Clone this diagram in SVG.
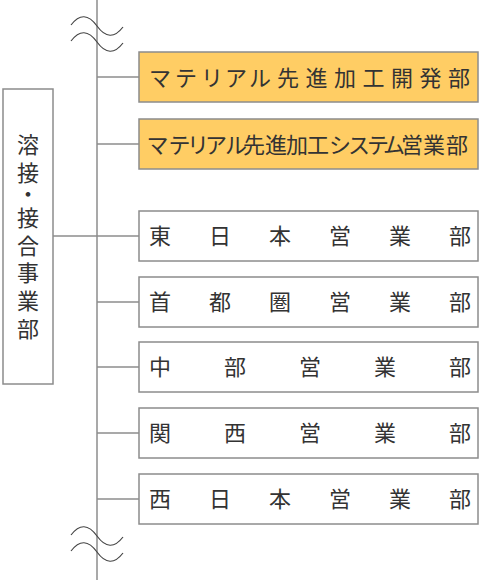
<svg xmlns="http://www.w3.org/2000/svg" width="480" height="580" viewBox="0 0 480 580">
<style>
.box{fill:#ffffff;stroke:#8c8c8c;stroke-width:1.5}
.hl{fill:#ffcd64}
.ln{fill:none;stroke:#8c8c8c;stroke-width:1.5}
.wave{fill:none;stroke:#444444;stroke-width:1.2}
.t{font-family:"Noto Sans CJK JP","Noto Sans CJK SC",sans-serif;font-size:22px;fill:#333333;text-anchor:middle}
</style>
<rect width="480" height="580" fill="#ffffff"/>
<g id="connectors">
<line class="ln" x1="97" y1="0" x2="97" y2="580"/>
<line class="ln" x1="53" y1="236" x2="97" y2="236"/>
<line class="ln" x1="97" y1="77" x2="139" y2="77"/>
<line class="ln" x1="97" y1="144" x2="139" y2="144"/>
<line class="ln" x1="97" y1="236" x2="139" y2="236"/>
<line class="ln" x1="97" y1="302" x2="139" y2="302"/>
<line class="ln" x1="97" y1="367" x2="139" y2="367"/>
<line class="ln" x1="97" y1="433" x2="139" y2="433"/>
<line class="ln" x1="97" y1="499" x2="139" y2="499"/>
<path class="wave" d="M71,25 Q84,8 97,26 T123,27"/>
<path class="wave" d="M71,41 Q84,24 97,42 T123,43"/>
<path class="wave" d="M71,535 Q84,518 97,536 T123,537"/>
<path class="wave" d="M71,551 Q84,534 97,552 T123,553"/>
</g>
<g id="division">
<rect class="box" x="3" y="89" width="50" height="295"/>
<text class="t" x="28 28 28 28 28 28 28 28" y="152.5 180.5 202 225.5 253.5 280.5 308.5 336.5">溶接・接合事業部</text>
</g>
<g id="materials-dev">
<rect class="box hl" x="139" y="52" width="339" height="50"/>
<text class="t" x="160 186 212 236 260 288 316.5 345 373.5 402 430.5 459" y="85.5">マテリアル先進加工開発部</text>
</g>
<g id="materials-sales">
<rect class="box hl" x="139" y="119" width="339" height="50"/>
<text class="t" x="157.5 179.5 198 216 236 254 276 297 318 340 359 378 394 412 434 457" y="152.5">マテリアル先進加工システム営業部</text>
</g>
<g id="east-japan">
<rect class="box" x="139" y="211" width="339" height="50"/>
<text class="t" x="160 220 280 340 400 460" y="243.5">東日本営業部</text>
</g>
<g id="metropolitan">
<rect class="box" x="139" y="277" width="339" height="50"/>
<text class="t" x="160 220 280 340 400 460" y="309.5">首都圏営業部</text>
</g>
<g id="chubu">
<rect class="box" x="139" y="342" width="339" height="50"/>
<text class="t" x="160 235 310 385 460" y="374.5">中部営業部</text>
</g>
<g id="kansai">
<rect class="box" x="139" y="408" width="339" height="50"/>
<text class="t" x="160 235 310 385 460" y="440.5">関西営業部</text>
</g>
<g id="west-japan">
<rect class="box" x="139" y="474" width="339" height="50"/>
<text class="t" x="160 220 280 340 400 460" y="506.5">西日本営業部</text>
</g>
</svg>
